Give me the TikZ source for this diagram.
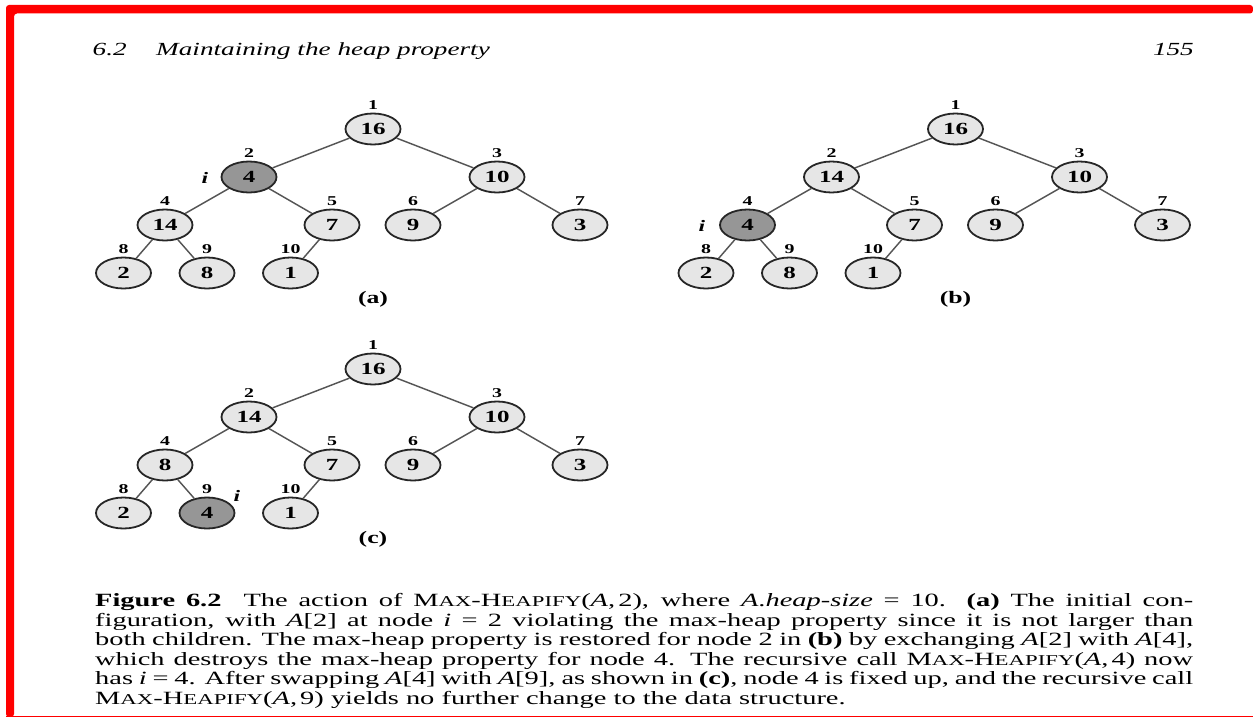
\documentclass[tikz,border=0pt]{standalone}
\usepackage{fontspec}
\setmainfont[FakeStretch=1.47]{Liberation Serif}
\newfontfamily\capfont[FakeStretch=1.52]{Liberation Serif}
\usetikzlibrary{shapes.geometric}
\definecolor{framered}{RGB}{255,0,0}
\definecolor{nodefill}{RGB}{230,230,230}
\definecolor{darkfill}{RGB}{150,150,150}
\definecolor{edgecol}{RGB}{85,85,85}
\newcommand\fsc[1]{{\fontsize{15}{15}\selectfont #1}}
\newcommand\heapdraw[3]{%
  \begin{scope}[shift={#2}]
    \foreach \k/\v/\st in {#3}{%
      \pgfmathsetmacro\px{{373,249,497,165,332,413,580,123.5,207,290.5}[\k-1]}%
      \pgfmathsetmacro\py{{129,177,177,225,225,225,225,273,273,273}[\k-1]}%
      \node[\st] (#1\k) at (\px,\py) {\v};
      \node[idx] (#1l\k) at (\px,\py-24) {\k};
    }
    \foreach \p/\c in {1/2,1/3,2/4,2/5,3/6,3/7,4/8,4/9,5/10}
      \draw[tedge] (#1\p) -- (#1\c);
  \end{scope}}
\begin{document}
\begin{tikzpicture}[x=1pt,y=-1pt,
  hn/.style={ellipse, draw=black!85, line width=1.8pt, fill=nodefill,
    minimum width=55pt, minimum height=31pt, inner sep=0pt,
    font=\fontsize{17}{17}\selectfont\bfseries},
  hdark/.style={hn, fill=darkfill},
  idx/.style={inner sep=0pt, font=\fontsize{13.5}{13.5}\selectfont\bfseries},
  ilab/.style={inner sep=0pt, font=\fontsize{16}{16}\selectfont\bfseries\itshape},
  sublab/.style={inner sep=0pt, font=\fontsize{17.5}{17.5}\selectfont\bfseries},
  tedge/.style={draw=edgecol, line width=1.45pt},
  hdr/.style={inner sep=0pt, font=\fontsize{18.5}{18.5}\selectfont\itshape},
  capline/.style={anchor=base west, inner sep=0pt, font=\capfont\fontsize{18.7}{19.5}\selectfont},
]
\useasboundingbox (0,0) rectangle (1253,717);
\fill[white] (0,0) rectangle (1253,717);
% red frame
\fill[framered, rounded corners=3pt] (6,717) |- (1253,5) -- (1253,13.5) -| (14,717) -- cycle;
\fill[framered] (6,715.6) rectangle (1253,717);
% running head
\node[hdr, anchor=base west] (hnum) at (92.5,55.5) {6.2};
\node[hdr, anchor=base west] (htitle) at (156,55.5) {Maintaining the heap property};
\node[hdr, anchor=base east] (hpage) at (1194,55.5) {155};
% trees
\heapdraw{a}{(0,0)}{1/16/hn,2/4/hdark,3/10/hn,4/14/hn,5/7/hn,6/9/hn,7/3/hn,8/2/hn,9/8/hn,10/1/hn}
\heapdraw{b}{(582.5,0)}{1/16/hn,2/14/hn,3/10/hn,4/4/hdark,5/7/hn,6/9/hn,7/3/hn,8/2/hn,9/8/hn,10/1/hn}
\heapdraw{c}{(0,240)}{1/16/hn,2/14/hn,3/10/hn,4/8/hn,5/7/hn,6/9/hn,7/3/hn,8/2/hn,9/4/hdark,10/1/hn}
\node[ilab] (ia) at (205,178) {i};
\node[ilab] (ib) at (702,226) {i};
\node[ilab] (ic) at (237,496) {i};
\node[sublab] (sa) at (373,299) {(a)};
\node[sublab] (sb) at (955.5,299) {(b)};
\node[sublab] (sc) at (373,539) {(c)};
% caption
\node[capline] (cap1) at (95,606.7) {\makebox[1098pt][s]{\textbf{Figure 6.2}\hspace{22pt}The action of M\fsc{AX}-H\fsc{EAPIFY}(\textit{A},\,2), where \textit{A}.\textit{heap-size} = 10. \textbf{(a)} The initial con-}};
\node[capline] (cap2) at (95,626.2) {\makebox[1098pt][s]{figuration, with \textit{A}[2] at node \textit{i} = 2 violating the max-heap property since it is not larger than}};
\node[capline] (cap3) at (95,645.7) {\makebox[1098pt][s]{both children. The max-heap property is restored for node 2 in \textbf{(b)} by exchanging \textit{A}[2] with \textit{A}[4],}};
\node[capline] (cap4) at (95,665.2) {\makebox[1098pt][s]{which destroys the max-heap property for node 4. The recursive call M\fsc{AX}-H\fsc{EAPIFY}(\textit{A},\,4) now}};
\node[capline] (cap5) at (95,684.7) {\makebox[1098pt][s]{has \textit{i} = 4. After swapping \textit{A}[4] with \textit{A}[9], as shown in \textbf{(c)}, node 4 is fixed up, and the recursive call}};
\node[capline] (cap6) at (95,704.2) {M\fsc{AX}-H\fsc{EAPIFY}(\textit{A},\,9) yields no further change to the data structure.};
\end{tikzpicture}
\end{document}
